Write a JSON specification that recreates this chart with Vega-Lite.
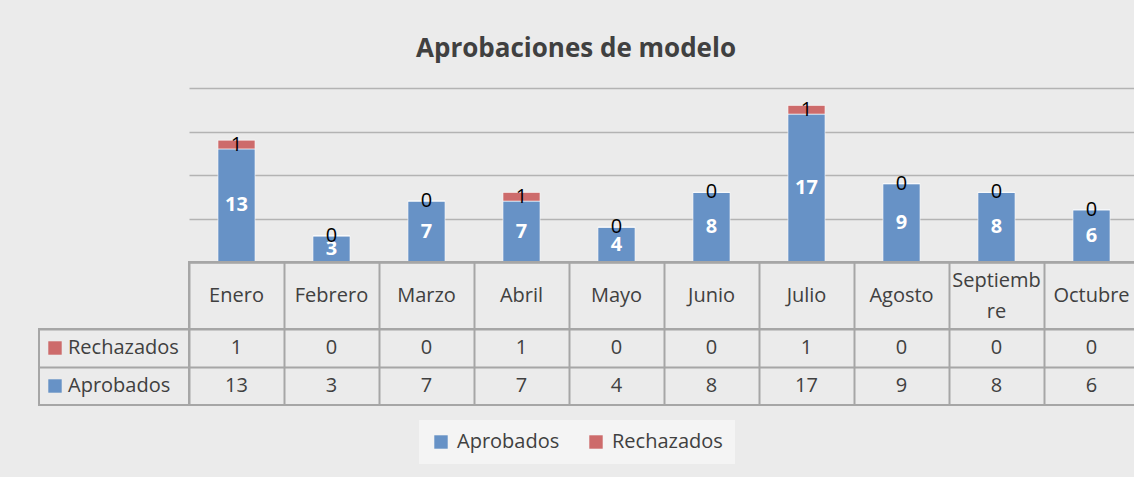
{
  "$schema": "https://vega.github.io/schema/vega-lite/v6.json",
  "background": "#ebebeb",
  "padding": {"left": 38, "top": 35, "right": 0, "bottom": 14},
  "title": {"text": "Aprobaciones de modelo", "fontSize": 26, "font": "Open Sans", "fontWeight": "bold", "color": "#404040", "anchor": "middle", "offset": 26.5, "dx": -13},
  "data": {"values": [
    {"month": "Enero", "series": "Aprobados", "value": 13},
    {"month": "Febrero", "series": "Aprobados", "value": 3},
    {"month": "Marzo", "series": "Aprobados", "value": 7},
    {"month": "Abril", "series": "Aprobados", "value": 7},
    {"month": "Mayo", "series": "Aprobados", "value": 4},
    {"month": "Junio", "series": "Aprobados", "value": 8},
    {"month": "Julio", "series": "Aprobados", "value": 17},
    {"month": "Agosto", "series": "Aprobados", "value": 9},
    {"month": "Septiembre", "series": "Aprobados", "value": 8},
    {"month": "Octubre", "series": "Aprobados", "value": 6},
    {"month": "Enero", "series": "Rechazados", "value": 1},
    {"month": "Febrero", "series": "Rechazados", "value": 0},
    {"month": "Marzo", "series": "Rechazados", "value": 0},
    {"month": "Abril", "series": "Rechazados", "value": 1},
    {"month": "Mayo", "series": "Rechazados", "value": 0},
    {"month": "Junio", "series": "Rechazados", "value": 0},
    {"month": "Julio", "series": "Rechazados", "value": 1},
    {"month": "Agosto", "series": "Rechazados", "value": 0},
    {"month": "Septiembre", "series": "Rechazados", "value": 0},
    {"month": "Octubre", "series": "Rechazados", "value": 0}
  ]},
  "config": {"font": "Open Sans", "view": {"stroke": null}},
  "columns": 2,
  "spacing": 0,
  "bounds": "flush",
  "concat": [
    {
      "width": 150, "height": 174,
      "data": {"values": []},
      "mark": {"type": "point", "opacity": 0},
      "encoding": {}
    },
    {
      "width": 950, "height": 174,
      "layer": [
        {
          "mark": {"type": "bar", "width": {"band": 0.39}, "stroke": "#ffffff", "strokeOpacity": 0.6, "strokeWidth": 1},
          "encoding": {
            "x": {"field": "month", "type": "nominal", "sort": ["Enero","Febrero","Marzo","Abril","Mayo","Junio","Julio","Agosto","Septiembre","Octubre"], "scale": {"type": "band", "paddingInner": 0, "paddingOuter": 0}, "axis": {"labels": false, "ticks": false, "title": null, "domain": true, "domainColor": "#8c8c8c", "domainWidth": 2, "grid": false}},
            "y": {"field": "value", "type": "quantitative", "stack": "zero", "scale": {"domain": [0, 20], "nice": false}, "axis": {"values": [0, 5, 10, 15, 20], "labels": false, "ticks": false, "domain": false, "title": null, "grid": true, "gridColor": "#b3b3b3", "gridWidth": 1.5}},
            "color": {"field": "series", "type": "nominal", "scale": {"domain": ["Aprobados", "Rechazados"], "range": ["#6792c6", "#cd6b6b"]},
              "legend": {"orient": "none", "legendX": 380, "legendY": 332, "direction": "horizontal", "title": null, "symbolType": "square", "symbolSize": 180, "symbolStrokeWidth": 0, "symbolOpacity": 1, "labelFontSize": 20, "labelColor": "#404040", "labelFont": "Open Sans", "labelOffset": 6, "fillColor": "#f4f4f4", "padding": 12, "columnPadding": 26}},
            "order": {"field": "series", "sort": "ascending"}
          }
        },
        {
          "transform": [
            {"stack": "value", "groupby": ["month"], "sort": [{"field": "series"}], "as": ["v0", "v1"]},
            {"calculate": "(datum.v0 + datum.v1) / 2", "as": "mid"},
            {"filter": "datum.series == 'Aprobados'"}
          ],
          "mark": {"type": "text", "fontSize": 20, "fontWeight": "bold", "color": "#ffffff"},
          "encoding": {
            "x": {"field": "month", "type": "nominal", "sort": ["Enero","Febrero","Marzo","Abril","Mayo","Junio","Julio","Agosto","Septiembre","Octubre"]},
            "y": {"field": "mid", "type": "quantitative"},
            "text": {"field": "value", "type": "quantitative"}
          }
        },
        {
          "transform": [
            {"stack": "value", "groupby": ["month"], "sort": [{"field": "series"}], "as": ["v0", "v1"]},
            {"calculate": "(datum.v0 + datum.v1) / 2", "as": "mid"},
            {"filter": "datum.series == 'Rechazados'"}
          ],
          "mark": {"type": "text", "fontSize": 20, "color": "#000000"},
          "encoding": {
            "x": {"field": "month", "type": "nominal", "sort": ["Enero","Febrero","Marzo","Abril","Mayo","Junio","Julio","Agosto","Septiembre","Octubre"]},
            "y": {"field": "mid", "type": "quantitative"},
            "text": {"field": "value", "type": "quantitative"}
          }
        }
      ]
    },
    {
      "width": 150, "height": 67,
      "data": {"values": []},
      "mark": {"type": "point", "opacity": 0},
      "encoding": {}
    },
    {
      "width": 950, "height": 67,
      "view": {"stroke": "#a6a6a6", "strokeWidth": 2},
      "transform": [{"filter": "datum.series == 'Aprobados'"}],
      "encoding": {
        "x": {"field": "month", "type": "nominal", "sort": ["Enero","Febrero","Marzo","Abril","Mayo","Junio","Julio","Agosto","Septiembre","Octubre"], "scale": {"type": "band", "paddingInner": 0, "paddingOuter": 0}, "axis": {"labels": false, "ticks": false, "domain": false, "title": null, "grid": true, "bandPosition": 0, "gridColor": "#a6a6a6", "gridWidth": 2}}
      },
      "layer": [
        {
          "transform": [{"filter": "datum.month != 'Septiembre'"}],
          "mark": {"type": "text", "fontSize": 20, "color": "#404040"},
          "encoding": {"text": {"field": "month", "type": "nominal"}}
        },
        {
          "transform": [{"filter": "datum.month == 'Septiembre'"}],
          "mark": {"type": "text", "fontSize": 20, "color": "#404040", "lineHeight": 31, "dy": -15},
          "encoding": {"text": {"value": ["Septiemb", "re"]}}
        }
      ]
    },
    {
      "width": 150, "height": 76,
      "view": {"stroke": "#a6a6a6", "strokeWidth": 2},
      "transform": [{"filter": "datum.month == 'Enero'"}],
      "encoding": {
        "y": {"field": "series", "type": "nominal", "sort": ["Rechazados", "Aprobados"], "scale": {"type": "band", "paddingInner": 0, "paddingOuter": 0}, "axis": {"labels": false, "ticks": false, "domain": false, "title": null, "grid": true, "bandPosition": 0, "gridColor": "#a6a6a6", "gridWidth": 2}}
      },
      "layer": [
        {"mark": {"type": "point", "shape": "square", "filled": true, "size": 180, "opacity": 1, "xOffset": -59},
         "encoding": {"color": {"field": "series", "type": "nominal", "legend": null}}},
        {"mark": {"type": "text", "align": "left", "dx": -46, "fontSize": 20, "color": "#404040"},
         "encoding": {"text": {"field": "series", "type": "nominal"}}}
      ]
    },
    {
      "width": 950, "height": 76,
      "view": {"stroke": "#a6a6a6", "strokeWidth": 2},
      "mark": {"type": "text", "fontSize": 20, "color": "#404040"},
      "encoding": {
        "x": {"field": "month", "type": "nominal", "sort": ["Enero","Febrero","Marzo","Abril","Mayo","Junio","Julio","Agosto","Septiembre","Octubre"], "scale": {"type": "band", "paddingInner": 0, "paddingOuter": 0}, "axis": {"labels": false, "ticks": false, "domain": false, "title": null, "grid": true, "bandPosition": 0, "gridColor": "#a6a6a6", "gridWidth": 2}},
        "y": {"field": "series", "type": "nominal", "sort": ["Rechazados", "Aprobados"], "scale": {"type": "band", "paddingInner": 0, "paddingOuter": 0}, "axis": {"labels": false, "ticks": false, "domain": false, "title": null, "grid": true, "bandPosition": 0, "gridColor": "#a6a6a6", "gridWidth": 2}},
        "text": {"field": "value", "type": "quantitative"}
      }
    }
  ]
}
